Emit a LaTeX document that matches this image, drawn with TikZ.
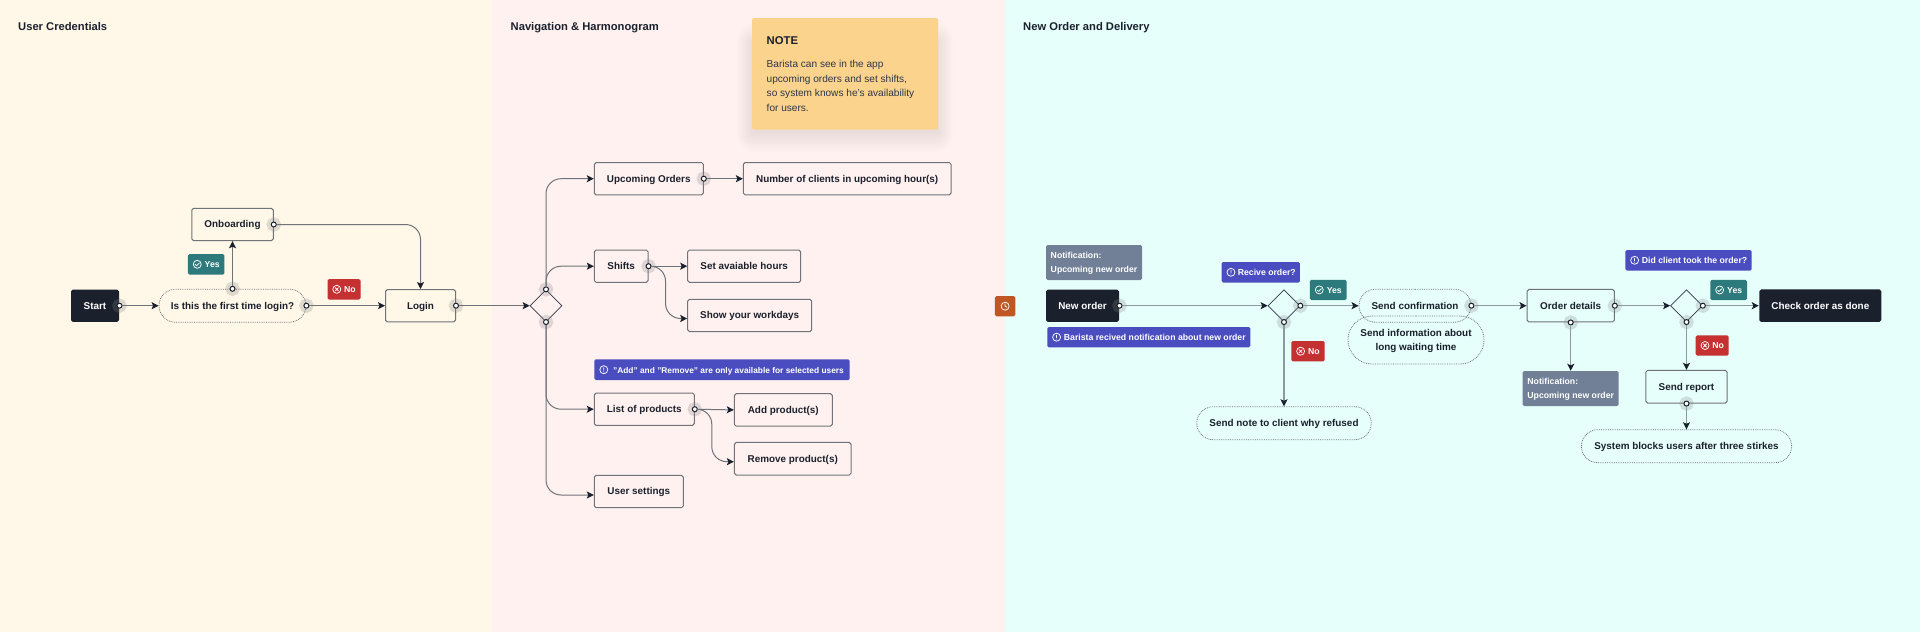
\documentclass[tikz,border=0pt]{standalone}
\usepackage{fontspec}
\setmainfont{Liberation Sans}
\usetikzlibrary{arrows.meta,shapes.geometric,shapes.misc,calc}
\definecolor{creamC}{HTML}{FFF7E8}
\definecolor{pinkC}{HTML}{FFF1F0}
\definecolor{cyanC}{HTML}{E6FFFB}
\definecolor{inkC}{HTML}{1A202C}
\definecolor{edgeC}{HTML}{6F7378}
\definecolor{edgeCyan}{HTML}{8B9A9C}
\definecolor{purpleC}{HTML}{4A4DBF}
\definecolor{tealC}{HTML}{2C7A7B}
\definecolor{redC}{HTML}{C53030}
\definecolor{slateC}{HTML}{718096}
\definecolor{orangeC}{HTML}{C05621}
\definecolor{noteC}{HTML}{FBD38D}
\definecolor{bodyC}{HTML}{2D3748}
\tikzset{
  x=1pt,y=-1pt,
  mainfont/.style={font=\fontsize{9.9}{14.6}\selectfont\bfseries},
  smallfont/.style={font=\fontsize{8.7}{14.6}\selectfont\bfseries},
  oneline/.style={text height=7.2pt,text depth=.6pt},
  multiline/.style={text height=,text depth=0pt},
  flowbox/.style={draw=edgeC,line width=1pt,rounded corners=1.8pt,inner sep=0pt,text=inkC,mainfont,align=center,oneline},
  darkbox/.style={flowbox,draw=none,fill=inkC,text=white},
  pillbox/.style={draw=edgeC,line width=.8pt,densely dotted,rounded rectangle,inner sep=0pt,text=inkC,mainfont,align=center,oneline},
  decision/.style={diamond,draw=bodyC,line width=.7pt,inner sep=0pt,minimum width=32pt,minimum height=32pt,aspect=1},
  portdot/.style={circle,draw=inkC,fill=white,line width=1pt,inner sep=0pt,minimum size=5pt,
    preaction={draw=gray,draw opacity=.25,line width=9pt}},
  conn/.style={draw=edgeC,line width=1pt,rounded corners=15pt,-{Stealth[length=7pt,width=7pt,inset=1.5pt,color=inkC]}},
  conncy/.style={conn,draw=edgeCyan,line width=1.3pt},
  badge/.style={draw=none,rounded corners=1.5pt,inner sep=0pt,text=white,smallfont,oneline},
  titlelabel/.style={anchor=west,inner sep=0pt,text=inkC,font=\fontsize{11.2}{13}\selectfont\bfseries,text height=8pt,text depth=0pt},
  iconline/.style={draw=white,line width=.75pt,line cap=round,line join=round},
  icheck/.pic={\draw[iconline] (0,0) circle (4pt) (-2,0.2) -- (-.6,1.5) -- (2,-1.2);},
  icross/.pic={\draw[iconline] (0,0) circle (4pt) (-1.6,-1.6) -- (1.6,1.6) (-1.6,1.6) -- (1.6,-1.6);},
  iinfo/.pic={\draw[iconline] (0,0) circle (4pt) (0,-2) -- (0,.5) (0,1.9) -- (0,2);},
  iclock/.pic={\draw[iconline] (0,0) circle (4pt) (0,-2.3) -- (0,0) -- (1.7,1);},
}
\begin{document}
\begin{tikzpicture}
\useasboundingbox (0,0) rectangle (1920,632);
% panels
\fill[creamC] (0,0) rectangle (492,632);
\fill[pinkC] (492,0) rectangle (1005,632);
\fill[cyanC] (1005,0) rectangle (1920,632);
% titles
\node[titlelabel] (t1) at (18,26) {User Credentials};
\node[titlelabel] (t2) at (510.5,26) {Navigation \& Harmonogram};
\node[titlelabel] (t3) at (1023,26) {New Order and Delivery};
% note with soft shadow
\foreach \s in {19,17,...,1}{\fill[black,opacity=.007,rounded corners=\s pt] (752-.8*\s,42-\s) rectangle (938+.8*\s,133+\s);}
\node[fill=noteC,rounded corners=2pt,minimum width=186pt,minimum height=111.5pt,inner sep=0pt] (note) at (845,73.75) {};
\node[anchor=west,inner sep=0pt,text=inkC,font=\fontsize{11.3}{13}\selectfont\bfseries,text height=8pt,text depth=0pt] (notetitle) at (766.5,40.5) {NOTE};
\node[anchor=north west,inner sep=0pt,text=bodyC,align=left,font=\fontsize{10.1}{14.5}\selectfont] (notebody) at (766.5,60) {Barista can see in the app\\upcoming orders and set shifts,\\so system knows he’s availability\\for users.};
% --- user credentials
\node[darkbox,minimum width=48pt,minimum height=32.4pt] (start) at (95,305.7) {Start};
\node[pillbox,minimum width=147pt,minimum height=33pt] (first) at (232.5,305.7) {Is this the first time login?};
\node[flowbox,minimum width=81.5pt,minimum height=32.4pt] (onboarding) at (232.5,224.5) {Onboarding};
\node[flowbox,minimum width=70pt,minimum height=32.4pt] (login) at (420.5,305.7) {Login};
\node[badge,fill=tealC,minimum width=36.5pt,minimum height=20.5pt] (yes1) at (206.2,264.3) {\hspace*{12pt}Yes};
\node[badge,fill=redC,minimum width=33pt,minimum height=20.5pt] (no1) at (344,289.3) {\hspace*{12pt}No};
% --- navigation
\node[decision] (dia1) at (546,305.7) {};
\node[flowbox,minimum width=109pt,minimum height=32.4pt] (upcoming) at (648.8,178.7) {Upcoming Orders};
\node[flowbox,minimum width=207.7pt,minimum height=32.4pt] (clients) at (847.2,178.7) {Number of clients in upcoming hour(s)};
\node[flowbox,minimum width=53.7pt,minimum height=32.4pt] (shifts) at (621.2,266.2) {Shifts};
\node[flowbox,minimum width=113pt,minimum height=32.4pt] (hours) at (744.2,266.2) {Set avaiable hours};
\node[flowbox,minimum width=124pt,minimum height=32.4pt] (workdays) at (749.7,315.5) {Show your workdays};
\node[badge,fill=purpleC,minimum width=255.4pt,minimum height=20.7pt,font=\fontsize{8.35}{14.6}\selectfont\bfseries] (addnote) at (722,369.7) {\hspace*{13pt}"Add" and "Remove" are only available for selected users};
\node[flowbox,minimum width=100pt,minimum height=32.4pt] (products) at (644.3,409.2) {List of products};
\node[flowbox,minimum width=98pt,minimum height=32.4pt] (add) at (783.3,409.9) {Add product(s)};
\node[flowbox,minimum width=116.7pt,minimum height=32.6pt] (remove) at (792.7,458.7) {Remove product(s)};
\node[flowbox,minimum width=89pt,minimum height=32.4pt] (settings) at (638.8,491.5) {User settings};
% --- new order
\node[badge,fill=orangeC,minimum width=20.3pt,minimum height=20.3pt] (clock) at (1005.1,306.2) {};
\node[badge,multiline,fill=slateC,align=left,minimum width=96pt,minimum height=35pt] (notif1) at (1094,262.5) {Notification:\\Upcoming new order};
\node[darkbox,minimum width=73pt,minimum height=32.4pt] (neworder) at (1082.5,305.7) {New order};
\node[badge,fill=purpleC,minimum width=203pt,minimum height=20.3pt] (barista) at (1148.8,337.2) {\hspace*{12pt}Barista recived notification about new order};
\node[badge,fill=purpleC,minimum width=78.3pt,minimum height=20.5pt] (recive) at (1260.8,272.3) {\hspace*{12pt}Recive order?};
\node[decision] (dia2) at (1284,305.7) {};
\node[badge,fill=tealC,minimum width=36.7pt,minimum height=20.3pt] (yes2) at (1328.3,289.9) {\hspace*{12pt}Yes};
\node[badge,fill=redC,minimum width=33.4pt,minimum height=20.3pt] (no2) at (1308,351.2) {\hspace*{12pt}No};
\node[pillbox,minimum width=112pt,minimum height=33pt] (confirm) at (1415,305.7) {Send confirmation};
\node[pillbox,multiline,minimum width=136pt,minimum height=48pt] (waiting) at (1416,340) {Send information about\\long waiting time};
\node[pillbox,minimum width=174.6pt,minimum height=33pt] (refused) at (1284,423.2) {Send note to client why refused};
\node[flowbox,minimum width=87.3pt,minimum height=32.5pt] (details) at (1570.7,305.7) {Order details};
\node[badge,multiline,fill=slateC,align=left,minimum width=96pt,minimum height=35pt] (notif2) at (1570.7,388.5) {Notification:\\Upcoming new order};
\node[decision] (dia3) at (1686.5,305.7) {};
\node[badge,fill=purpleC,minimum width=126.4pt,minimum height=20.5pt] (tookq) at (1688.5,260.3) {\hspace*{12pt}Did client took the order?};
\node[badge,fill=tealC,minimum width=36.7pt,minimum height=20.3pt] (yes3) at (1728.7,290) {\hspace*{12pt}Yes};
\node[badge,fill=redC,minimum width=33pt,minimum height=20.4pt] (no3) at (1712.2,345.5) {\hspace*{12pt}No};
\node[darkbox,minimum width=122pt,minimum height=32.5pt] (done) at (1820.3,305.7) {Check order as done};
\node[flowbox,minimum width=81.3pt,minimum height=32.7pt] (report) at (1686.5,386.7) {Send report};
\node[pillbox,minimum width=210.3pt,minimum height=33pt] (blocks) at (1686.5,446.2) {System blocks users after three stirkes};
% badge icons
\pic at ([xshift=9.5pt]yes1.west) {icheck};
\pic at ([xshift=9.5pt]no1.west) {icross};
\pic at ([xshift=9.7pt]addnote.west) {iinfo};
\pic at (clock.center) {iclock};
\pic at ([xshift=9.5pt]barista.west) {iinfo};
\pic at ([xshift=9.5pt]recive.west) {iinfo};
\pic at ([xshift=9.5pt]yes2.west) {icheck};
\pic at ([xshift=9.5pt]no2.west) {icross};
\pic at ([xshift=9.5pt]tookq.west) {iinfo};
\pic at ([xshift=9.5pt]yes3.west) {icheck};
\pic at ([xshift=9.5pt]no3.west) {icross};
% ports
\node[portdot] (pstart) at (start.east) {};
\node[portdot] (pfirstr) at (first.east) {};
\node[portdot] (pfirstt) at (first.north) {};
\node[portdot] (ponb) at (onboarding.east) {};
\node[portdot] (plogin) at (login.east) {};
\node[portdot] (pdia1t) at (dia1.north) {};
\node[portdot] (pdia1b) at (dia1.south) {};
\node[portdot] (pup) at (upcoming.east) {};
\node[portdot] (pshifts) at (shifts.east) {};
\node[portdot] (pprod) at (products.east) {};
\node[portdot] (pnew) at (neworder.east) {};
\node[portdot] (pdia2r) at (dia2.east) {};
\node[portdot] (pdia2b) at (dia2.south) {};
\node[portdot] (pconf) at (confirm.east) {};
\node[portdot] (pdetr) at (details.east) {};
\node[portdot] (pdetb) at (details.south) {};
\node[portdot] (pdia3r) at (dia3.east) {};
\node[portdot] (pdia3b) at (dia3.south) {};
\node[portdot] (prep) at (report.south) {};
% connectors
\draw[conn] (pstart) -- (first.west);
\draw[conn] (pfirstt) -- (onboarding.south);
\draw[conn] (pfirstr) -- (login.west);
\draw[conn] (ponb.east) -| (login.north);
\draw[conn] (plogin) -- (dia1.west);
\draw[conn] (pdia1t.north) |- (upcoming.west);
\draw[conn] (pdia1t.north) |- (shifts.west);
\draw[conn] (pdia1b.south) |- (products.west);
\draw[conn] (pdia1b.south) |- ([yshift=-3.5pt]settings.west);
\draw[conn] (pup) -- (clients.west);
\draw[conn] (pshifts) -- (hours.west);
\draw[conn] (pshifts.east) -- ++(14,0) |- ([yshift=-3pt]workdays.west);
\draw[conn] (pprod) -- (add.west);
\draw[conn] (pprod.east) -- ++(14,0) |- ([yshift=-3pt]remove.west);
\draw[conncy] (pnew) -- (dia2.west);
\draw[conncy] (pdia2r) -- (confirm.west);
\draw[conncy] (pdia2b) -- (refused.north);
\draw[conncy] (pconf) -- (details.west);
\draw[conncy] (pdetr) -- (dia3.west);
\draw[conncy] (pdetb) -- (notif2.north);
\draw[conncy] (pdia3r) -- (done.west);
\draw[conncy] (pdia3b) -- (report.north);
\draw[conncy] (prep) -- (blocks.north);
\end{tikzpicture}
\end{document}
